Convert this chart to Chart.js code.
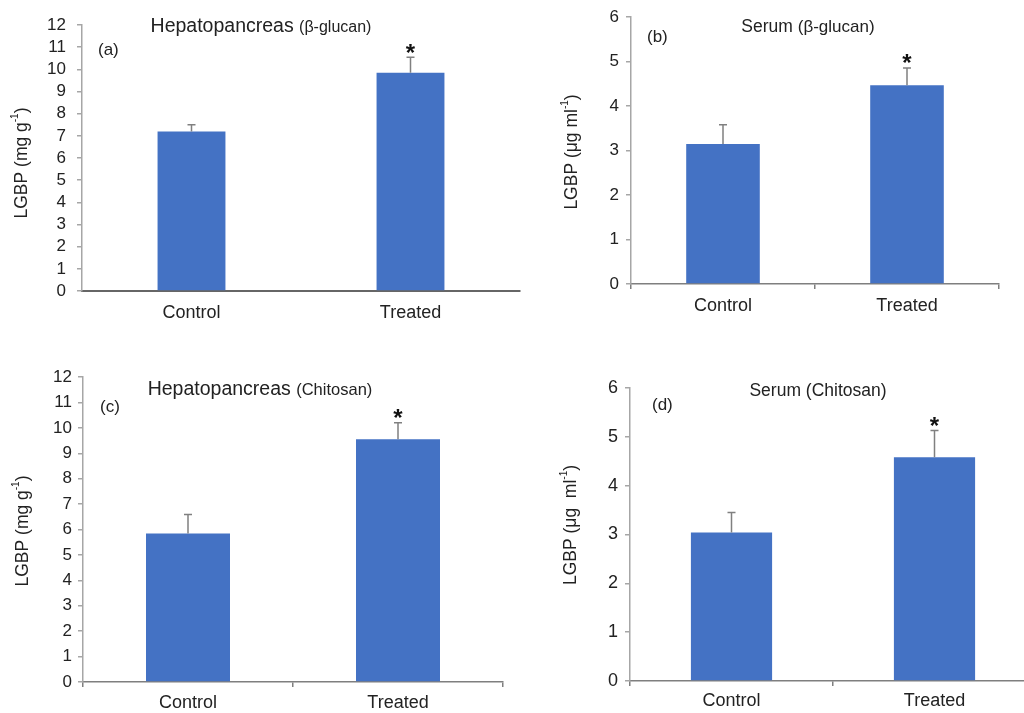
<!DOCTYPE html>
<html>
<head>
<meta charset="utf-8">
<script src="https://cdn.jsdelivr.net/npm/chart.js@4.4.0/dist/chart.umd.min.js"></script>
<style>
  html, body { margin: 0; padding: 0; background: #fff; width: 1024px; height: 713px; overflow: hidden; }
  canvas { position: absolute; }
</style>
</head>
<body>
<canvas id="chart-a"></canvas>
<canvas id="chart-b"></canvas>
<canvas id="chart-c"></canvas>
<canvas id="chart-d"></canvas>
<script>
const categories = ['Control', 'Treated'];

// (a) hepatopancreas, beta-glucan (mg g-1)
const hepaGlucanMean = [7.2, 9.85];
const hepaGlucanSd   = [0.3, 0.7];
// (b) serum, beta-glucan (ug ml-1)
const serumGlucanMean = [3.15, 4.47];
const serumGlucanSd   = [0.43, 0.39];
// (c) hepatopancreas, chitosan
const hepaChitoMean = [5.84, 9.55];
const hepaChitoSd   = [0.75, 0.65];
// (d) serum, chitosan
const serumChitoMean = [3.04, 4.58];
const serumChitoSd   = [0.41, 0.55];

const signif = [false, true];

const FONT = "'Liberation Sans', Arial, sans-serif";
const BAR_COLOR = '#4472c4';
const TEXT = '#222';

// error bars, asterisks, titles, panel letters, y title with superscript
const decor = {
  id: 'decor',
  afterDatasetsDraw(chart, args, o) {
    const ctx  = chart.ctx;
    const ys   = chart.scales.y;
    const meta = chart.getDatasetMeta(0);
    const vals = chart.data.datasets[0].data;
    ctx.save();

    meta.data.forEach((bar, i) => {
      const top = ys.getPixelForValue(vals[i] + o.sd[i]);
      ctx.strokeStyle = '#808080';
      ctx.lineWidth = 1.5;
      ctx.beginPath();
      ctx.moveTo(bar.x, bar.y);
      ctx.lineTo(bar.x, top);
      ctx.moveTo(bar.x - 4, top);
      ctx.lineTo(bar.x + 4, top);
      ctx.stroke();
      if (signif[i]) {
        ctx.fillStyle = '#111';
        ctx.font = 'bold 24px ' + FONT;
        ctx.textAlign = 'center';
        ctx.textBaseline = 'alphabetic';
        ctx.fillText('*', bar.x, top - 10 + 13.5);
      }
    });

    // title in two sizes
    const ox = o.left, oy = o.top;
    ctx.fillStyle = TEXT;
    ctx.textAlign = 'left';
    ctx.textBaseline = 'alphabetic';
    ctx.font = o.t1Size + 'px ' + FONT;
    const w1 = ctx.measureText(o.t1 + ' ').width;
    ctx.font = o.t2Size + 'px ' + FONT;
    const w2 = ctx.measureText(o.t2).width;
    let tx = o.tx - ox - (w1 + w2) / 2;
    ctx.font = o.t1Size + 'px ' + FONT;
    ctx.fillText(o.t1 + ' ', tx, o.ty - oy);
    ctx.font = o.t2Size + 'px ' + FONT;
    ctx.fillText(o.t2, tx + w1, o.ty - oy);

    // panel letter
    ctx.font = '17px ' + FONT;
    ctx.fillText(o.letter, o.lx - ox, o.ly - oy);

    // rotated y title with superscript
    ctx.translate(o.yx - ox, o.yy - oy);
    ctx.rotate(-Math.PI / 2);
    ctx.font = '17.5px ' + FONT;
    const a = ctx.measureText(o.yMain).width;
    ctx.font = '10px ' + FONT;
    const s = ctx.measureText('-1').width;
    ctx.font = '17.5px ' + FONT;
    const c = ctx.measureText(')').width;
    let x0 = -(a + s + c) / 2;
    ctx.textBaseline = 'middle';
    ctx.fillText(o.yMain, x0, 0);
    ctx.font = '10px ' + FONT;
    ctx.fillText('-1', x0 + a, -7);
    ctx.font = '17.5px ' + FONT;
    ctx.fillText(')', x0 + a + s, 0);

    ctx.restore();
  }
};

function makePanel(id, p, means, sd) {
  const el = document.getElementById(id);
  el.width = p.w; el.height = p.h;
  el.style.left = p.left + 'px';
  el.style.top  = p.top + 'px';

  return new Chart(el.getContext('2d'), {
    type: 'bar',
    data: {
      labels: categories,
      datasets: [{
        data: means,
        backgroundColor: BAR_COLOR,
        borderWidth: 0,
        categoryPercentage: 1,
        barPercentage: p.barPct,
      }]
    },
    options: {
      responsive: false,
      animation: false,
      layout: { padding: { top: p.areaTop - p.top, right: p.left + p.w - p.areaRight, left: 0, bottom: 0 } },
      plugins: {
        legend: { display: false },
        tooltip: { enabled: false },
        decor: Object.assign({ sd, left: p.left, top: p.top }, p.text),
      },
      scales: {
        x: {
          grid: { drawOnChartArea: false, drawTicks: p.xTicks, tickLength: 5, color: p.xColor, lineWidth: 1.5 },
          border: { display: true, color: p.xColor, width: p.xWidth },
          ticks: { color: TEXT, font: { family: FONT, size: 18 }, padding: p.xPad, maxRotation: 0 },
          afterFit: s => { s.height = p.top + p.h - p.areaBottom; },
        },
        y: {
          min: 0, max: p.max,
          grid: { drawOnChartArea: false, drawTicks: true, tickLength: 5, color: '#a6a6a6', lineWidth: 1.5 },
          border: { display: true, color: '#a6a6a6', width: 1.5 },
          ticks: { stepSize: 1, autoSkip: false, color: TEXT, font: { family: FONT, size: p.tickSize }, padding: p.yPad },
          afterFit: s => { s.width = p.areaLeft - p.left; },
        }
      }
    },
    plugins: [decor]
  });
}

makePanel('chart-a', {
  left: 0, top: 0, w: 522, h: 340,
  areaLeft: 82, areaTop: 25, areaRight: 520, areaBottom: 291,
  max: 12, barPct: 0.31, tickSize: 17, yPad: 11, xPad: 11,
  xTicks: false, xColor: '#666', xWidth: 2,
  text: { t1: 'Hepatopancreas', t1Size: 19.5, t2: '(β-glucan)', t2Size: 16, tx: 261, ty: 32,
          letter: '(a)', lx: 98, ly: 55, yMain: 'LGBP (mg g', yx: 22, yy: 163 }
}, hepaGlucanMean, hepaGlucanSd);

makePanel('chart-b', {
  left: 512, top: 0, w: 500, h: 340,
  areaLeft: 631, areaTop: 15, areaRight: 999, areaBottom: 284,
  max: 6, barPct: 0.40, tickSize: 17, yPad: 7, xPad: 6,
  xTicks: true, xColor: '#7f7f7f', xWidth: 1.5,
  text: { t1: 'Serum', t1Size: 17.5, t2: '(β-glucan)', t2Size: 17, tx: 808, ty: 32,
          letter: '(b)', lx: 647, ly: 42, yMain: 'LGBP (μg ml', yx: 572, yy: 152 }
}, serumGlucanMean, serumGlucanSd);

makePanel('chart-c', {
  left: 0, top: 350, w: 510, h: 363,
  areaLeft: 83, areaTop: 377, areaRight: 503, areaBottom: 682,
  max: 12, barPct: 0.40, tickSize: 17, yPad: 6, xPad: 5,
  xTicks: true, xColor: '#7f7f7f', xWidth: 1.5,
  text: { t1: 'Hepatopancreas', t1Size: 19.5, t2: '(Chitosan)', t2Size: 16.5, tx: 260, ty: 395,
          letter: '(c)', lx: 100, ly: 412, yMain: 'LGBP (mg g', yx: 23, yy: 531 }
}, hepaChitoMean, hepaChitoSd);

makePanel('chart-d', {
  left: 512, top: 350, w: 524, h: 363,
  areaLeft: 630, areaTop: 388, areaRight: 1036, areaBottom: 681,
  max: 6, barPct: 0.40, tickSize: 18, yPad: 7, xPad: 4,
  xTicks: true, xColor: '#7f7f7f', xWidth: 1.5,
  text: { t1: 'Serum', t1Size: 17.5, t2: '(Chitosan)', t2Size: 17.5, tx: 818, ty: 396,
          letter: '(d)', lx: 652, ly: 410, yMain: 'LGBP (μg  ml', yx: 571, yy: 525 }
}, serumChitoMean, serumChitoSd);
</script>
</body>
</html>
